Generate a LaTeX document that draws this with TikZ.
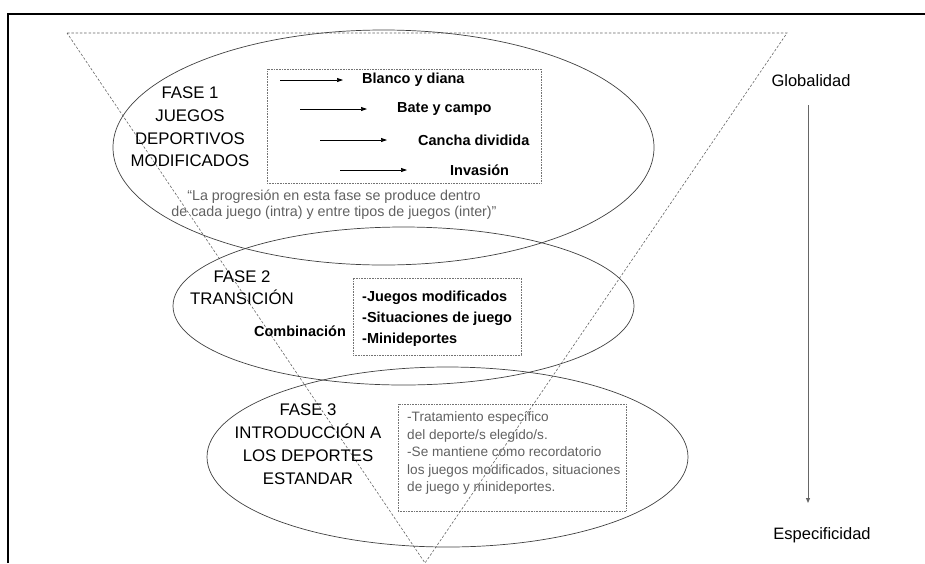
\documentclass[tikz,border=0pt]{standalone}
\usepackage{fontspec}
\setmainfont{Liberation Sans}
\usetikzlibrary{positioning,arrows.meta}

\begin{document}
\begin{tikzpicture}[x=1pt,y=-1pt,
  every node/.style={inner sep=0pt,align=center},
  fase/.style={font=\fontsize{16.8}{22.7}\selectfont},
  juego/.style={font=\fontsize{14.5}{21}\selectfont\bfseries,anchor=west},
  nota/.style={font=\fontsize{14.3}{16}\selectfont,text=black!62},
  caja/.style={draw=black!55,densely dotted,line width=0.6pt},
  elip/.style={draw=black!75,line width=0.7pt},
  arr/.style={-{Triangle[length=6pt,width=4pt]},line width=0.7pt},
  vert/.style={-{Triangle[length=5pt,width=4pt]},draw=black!60,line width=0.9pt}
]
  \useasboundingbox (0,0) rectangle (925,563);
  % marco
  \draw[line width=2pt] (8,563) -- (8,14) -- (925,14);
  % embudo
  \draw[black!60,dash pattern=on 2.5pt off 1.8pt,line width=0.6pt]
    (67,33) -- (787,33) -- (425,563) -- cycle;
  % fases
  \draw[elip] (383.5,147.5) ellipse [x radius=270.5, y radius=117.5];
  \draw[elip] (403.5,306) ellipse [x radius=230.5, y radius=79];
  \draw[elip] (447.5,457) ellipse [x radius=240.5, y radius=90];

  \node[fase] (f1) at (190,127) {FASE 1\\JUEGOS\\DEPORTIVOS\\MODIFICADOS};
  \node[caja,minimum width=274,minimum height=114] (b1) at (404,126) {};
  \node[juego] (t1) at (362,80) {Blanco y diana};
  \node[juego] (t2) at (397,109) {Bate y campo};
  \node[juego] (t3) at (418,140) {Cancha dividida};
  \node[juego] (t4) at (450,170) {Invasión};
  \coordinate (a1) at (280,80);
  \coordinate (a2) at (300,109);
  \coordinate (a3) at (320,140);
  \coordinate (a4) at (340,170);
  \draw[arr,shorten >=19pt] (a1) -- (t1.west);
  \draw[arr,shorten >=30pt] (a2) -- (t2.west);
  \draw[arr,shorten >=31pt] (a3) -- (t3.west);
  \draw[arr,shorten >=43pt] (a4) -- (t4.west);
  \node[nota] (cita) at (334,205)
    {“La progresión en esta fase se produce dentro\\de cada juego (intra) y entre tipos de juegos (inter)”};

  \node[fase,font=\fontsize{16.8}{22}\selectfont] (f2) at (242,288) {FASE 2\\TRANSICIÓN};
  \node[font=\fontsize{14.5}{16}\selectfont\bfseries] (comb) at (300,331) {Combinación};
  \node[caja,minimum width=168,minimum height=77] (b2) at (437,316.5) {};
  \node[juego,align=left] (lista2) at (362,319)
    {-Juegos modificados\\-Situaciones de juego\\-Minideportes};

  \node[fase,font=\fontsize{16.8}{23}\selectfont] (f3) at (308,444.5)
    {FASE 3\\INTRODUCCIÓN A\\LOS DEPORTES\\ESTANDAR};
  \node[caja,minimum width=228,minimum height=107] (b3) at (512,457.5) {};
  \node[nota,font=\fontsize{13.6}{17.5}\selectfont,anchor=west,align=left] (lista3) at (407,453)
    {-Tratamiento específico\\del deporte/s elegido/s.\\-Se mantiene como recordatorio\\los juegos modificados, situaciones\\de juego y minideportes.};

  % eje
  \node[font=\fontsize{16.5}{18}\selectfont] (glob) at (811,81) {Globalidad};
  \node[font=\fontsize{16.5}{18}\selectfont] (esp) at (822,535) {Especificidad};
  \coordinate (ejeA) at (808,105);
  \coordinate (ejeB) at (808,503);
  \draw[vert] (ejeA) -- (ejeB);
\end{tikzpicture}
\end{document}
